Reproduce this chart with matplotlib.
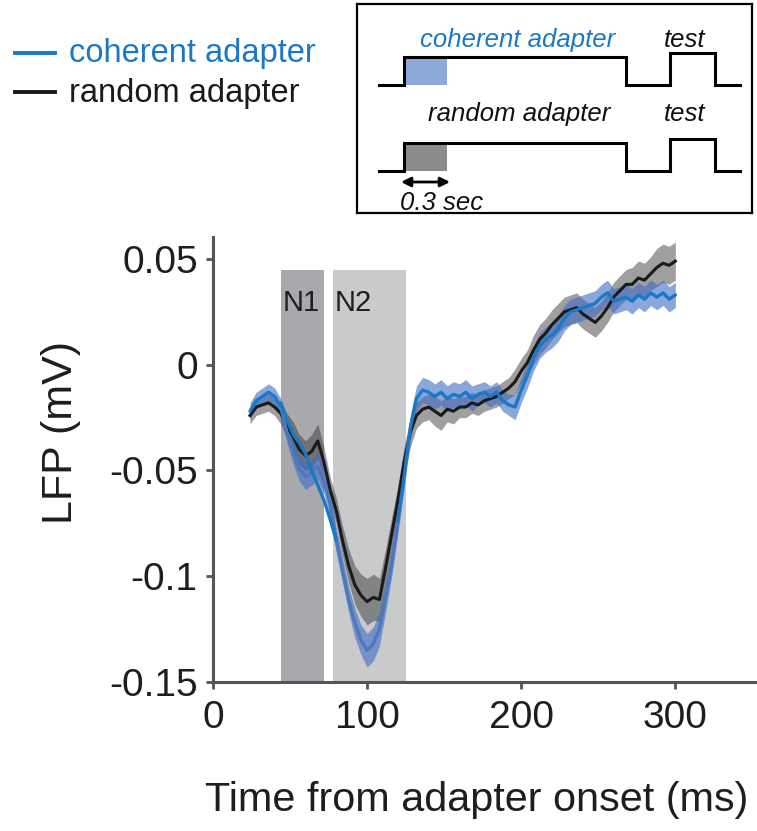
import numpy as np
import matplotlib
matplotlib.use("Agg")
import matplotlib.pyplot as plt
from matplotlib.lines import Line2D
from matplotlib.patches import Rectangle, FancyArrowPatch

plt.rcParams['font.family'] = ['Liberation Sans', 'DejaVu Sans']
plt.rcParams['axes.unicode_minus'] = False

# ---------------- data ----------------
time_ms = list(range(24, 301, 4))

random_mean = [
    -0.024, -0.020, -0.019, -0.018, -0.020,
    -0.023, -0.029, -0.034, -0.040, -0.043, -0.041, -0.036, -0.046,
    -0.059, -0.069, -0.083, -0.095, -0.104, -0.109, -0.112, -0.110, -0.111, -0.096, -0.080, -0.064, -0.046,
    -0.032, -0.024, -0.021, -0.020, -0.022, -0.024, -0.021, -0.022, -0.020, -0.020, -0.018, -0.019, -0.017,
    -0.016, -0.015, -0.013, -0.011, -0.008,
    -0.003, 0.001, 0.007, 0.012, 0.015, 0.019, 0.022, 0.025, 0.026, 0.027, 0.024, 0.022, 0.020,
    0.023, 0.027, 0.032, 0.035, 0.038, 0.038, 0.041, 0.040, 0.043, 0.046, 0.048, 0.047, 0.049,
]
random_sem = [
    0.004, 0.004, 0.004, 0.004, 0.004,
    0.005, 0.006, 0.007, 0.007, 0.007, 0.008, 0.008, 0.007,
    0.006, 0.006, 0.007, 0.008, 0.009, 0.010, 0.011, 0.011, 0.010, 0.009, 0.008, 0.007, 0.007,
    0.007, 0.006, 0.006, 0.006, 0.007, 0.007, 0.006, 0.006, 0.005, 0.005, 0.005, 0.005, 0.005,
    0.005, 0.005, 0.005, 0.005, 0.006,
    0.006, 0.006, 0.007, 0.007, 0.007, 0.007, 0.007, 0.007, 0.007, 0.007, 0.007, 0.007, 0.007,
    0.007, 0.007, 0.007, 0.007, 0.007, 0.008, 0.008, 0.008, 0.008, 0.009, 0.009, 0.009, 0.009,
]
coherent_mean = [
    -0.022, -0.017, -0.015, -0.013, -0.015,
    -0.020, -0.032, -0.041, -0.049, -0.053, -0.051, -0.048, -0.055,
    -0.066, -0.083, -0.097, -0.111, -0.122, -0.130, -0.135, -0.132, -0.125, -0.110, -0.094, -0.074, -0.053,
    -0.030, -0.016, -0.012, -0.013, -0.015, -0.013, -0.016, -0.014, -0.015, -0.013, -0.016, -0.014, -0.013,
    -0.015, -0.013, -0.017, -0.019, -0.020,
    -0.012, -0.005, 0.003, 0.009, 0.012, 0.014, 0.017, 0.022, 0.025, 0.026, 0.027, 0.028, 0.029,
    0.032, 0.034, 0.030, 0.031, 0.032, 0.030, 0.033, 0.031, 0.034, 0.032, 0.034, 0.031, 0.033,
]
coherent_sem = [
    0.004, 0.004, 0.004, 0.004, 0.004,
    0.004, 0.005, 0.006, 0.006, 0.006, 0.006, 0.006, 0.006,
    0.006, 0.006, 0.006, 0.006, 0.007, 0.007, 0.008, 0.008, 0.008, 0.007, 0.006, 0.006, 0.006,
    0.006, 0.006, 0.006, 0.006, 0.006, 0.006, 0.006, 0.006, 0.006, 0.006, 0.006, 0.005, 0.005,
    0.005, 0.005, 0.005, 0.005, 0.006,
    0.006, 0.006, 0.006, 0.006, 0.006, 0.006, 0.006, 0.006, 0.006, 0.006, 0.006, 0.006, 0.006,
    0.006, 0.006, 0.006, 0.006, 0.006, 0.006, 0.006, 0.006, 0.006, 0.006, 0.006, 0.006, 0.006,
]
# bright blue trace visible crossing the N1 window in the figure
n1_trace_time = [44, 48, 52, 56, 60, 64, 68, 72, 76, 80]
n1_trace_value = [-0.018, -0.026, -0.033, -0.037, -0.042, -0.050, -0.057, -0.064, -0.073, -0.083]

window_names = ["N1", "N2"]
window_starts = [44, 78]
window_ends = [72, 125]
window_colors = ["#a8a9ad", "#c9cacc"]
window_top = 0.045

x_ticks = [0, 100, 200, 300]
y_ticks = [0.05, 0, -0.05, -0.1, -0.15]
y_tick_labels = ["0.05", "0", "-0.05", "-0.1", "-0.15"]

BLUE = "#1b78c6"
MUTED_BLUE = "#4d78bb"
W, H = 757, 831

fig = plt.figure(figsize=(W / 100, H / 100), dpi=100)

def fx(px):
    return px / W

def fy(py):
    return 1 - py / H

# ---------------- main axes ----------------
ax = fig.add_axes([fx(213), fy(682), fx(757 - 213), (682 - 237) / H])
ax.set_xlim(0, 353)
ax.set_ylim(-0.15, 0.0604)

for name, s, e, c in zip(window_names, window_starts, window_ends, window_colors):
    ax.fill_between([s, e], -0.15, window_top, color=c, lw=0, zorder=0)
    ax.text(s + 1.2, 0.0292, name, fontsize=21, color="#1e1e1e", ha="left", va="center", zorder=1)

t = np.array(time_ms)
rm, rs = np.array(random_mean), np.array(random_sem)
cm, cs = np.array(coherent_mean), np.array(coherent_sem)

ax.fill_between(t, rm - rs, rm + rs, color="#333333", alpha=0.47, lw=0, zorder=2)
ax.fill_between(t, cm - cs, cm + cs, color="#3d6cc6", alpha=0.6, lw=0, zorder=3)
ax.plot(t, rm, color="#1a1a1a", lw=2.2, zorder=4)

inside = (t >= 44) & (t <= 120)
ax.plot(t[t <= 44], cm[t <= 44], color=BLUE, lw=2.4, zorder=5, solid_capstyle="round")
ax.plot(t[inside], cm[inside], color=MUTED_BLUE, lw=2.4, zorder=5, solid_capstyle="round")
ax.plot(t[t >= 120], cm[t >= 120], color=BLUE, lw=2.4, zorder=5, solid_capstyle="round")
ax.plot(n1_trace_time, n1_trace_value, color=BLUE, lw=2.4, zorder=6, solid_capstyle="round")

for sp in ["top", "right"]:
    ax.spines[sp].set_visible(False)
for sp in ["left", "bottom"]:
    ax.spines[sp].set_color("#555555")
    ax.spines[sp].set_linewidth(2.2)

ax.set_xticks(x_ticks)
ax.set_yticks(y_ticks)
ax.set_yticklabels(y_tick_labels)
ax.tick_params(axis="both", colors="#555555", width=2, length=5, labelsize=28, labelcolor="#1e1e1e")
ax.tick_params(axis="x", pad=8)
ax.tick_params(axis="y", pad=6)

fig.text(fx(61), fy(432), "LFP (mV)", rotation=90, ha="center", va="center", fontsize=31, color="#1e1e1e")
fig.text(fx(205), fy(811), "Time from adapter onset (ms)", ha="left", va="baseline", fontsize=29.8, color="#1e1e1e")

# ---------------- legend ----------------
fig.add_artist(Line2D([fx(15), fx(55)], [fy(53), fy(53)], color=BLUE, lw=2.8))
fig.add_artist(Line2D([fx(15), fx(55)], [fy(92), fy(92)], color="#1a1a1a", lw=2.8))
fig.text(fx(69), fy(62), "coherent adapter", color=BLUE, fontsize=23.5, va="baseline", ha="left")
fig.text(fx(69), fy(102), "random adapter", color="#1a1a1a", fontsize=23.5, va="baseline", ha="left")

# ---------------- protocol schematic (inset) ----------------
ins = fig.add_axes([fx(357), fy(213), fx(752 - 357), (213 - 4) / H])
ins.set_xlim(357, 752)
ins.set_ylim(213, 4)
ins.set_xticks([])
ins.set_yticks([])
for sp in ins.spines.values():
    sp.set_linewidth(1.6)
    sp.set_color("black")

trace_x = [379, 404, 404, 626, 626, 670, 670, 715, 715, 740]
rows = [
    dict(base=85, high=57, test=53, label="coherent adapter", lcol=BLUE, ly=47.5, lx=420, fill="#8fa8dc"),
    dict(base=171, high=143, test=139, label="random adapter", lcol="#111111", ly=121.5, lx=428, fill="#8b8b8d"),
]
for r in rows:
    ys = [r["base"], r["base"], r["high"], r["high"], r["base"], r["base"],
          r["test"], r["test"], r["base"], r["base"]]
    ins.add_patch(Rectangle((404, r["high"]), 43, r["base"] - r["high"], color=r["fill"], lw=0, zorder=1))
    ins.plot(trace_x, ys, color="black", lw=2.2, zorder=2, solid_joinstyle="miter")
    ins.text(r["lx"], r["ly"], r["label"], color=r["lcol"], fontsize=18.5, style="italic", va="baseline", ha="left")
    ins.text(664, r["ly"] - 0.5, "test", color="#111111", fontsize=18.5, style="italic", va="baseline", ha="left")

ins.add_patch(FancyArrowPatch((401, 182), (450, 182), arrowstyle="<|-|>", mutation_scale=14,
                              color="black", lw=2, shrinkA=0, shrinkB=0))
ins.text(400, 210, "0.3 sec", fontsize=18.5, style="italic", va="baseline", ha="left", color="#111111")

fig.savefig("out.png", dpi=100)
